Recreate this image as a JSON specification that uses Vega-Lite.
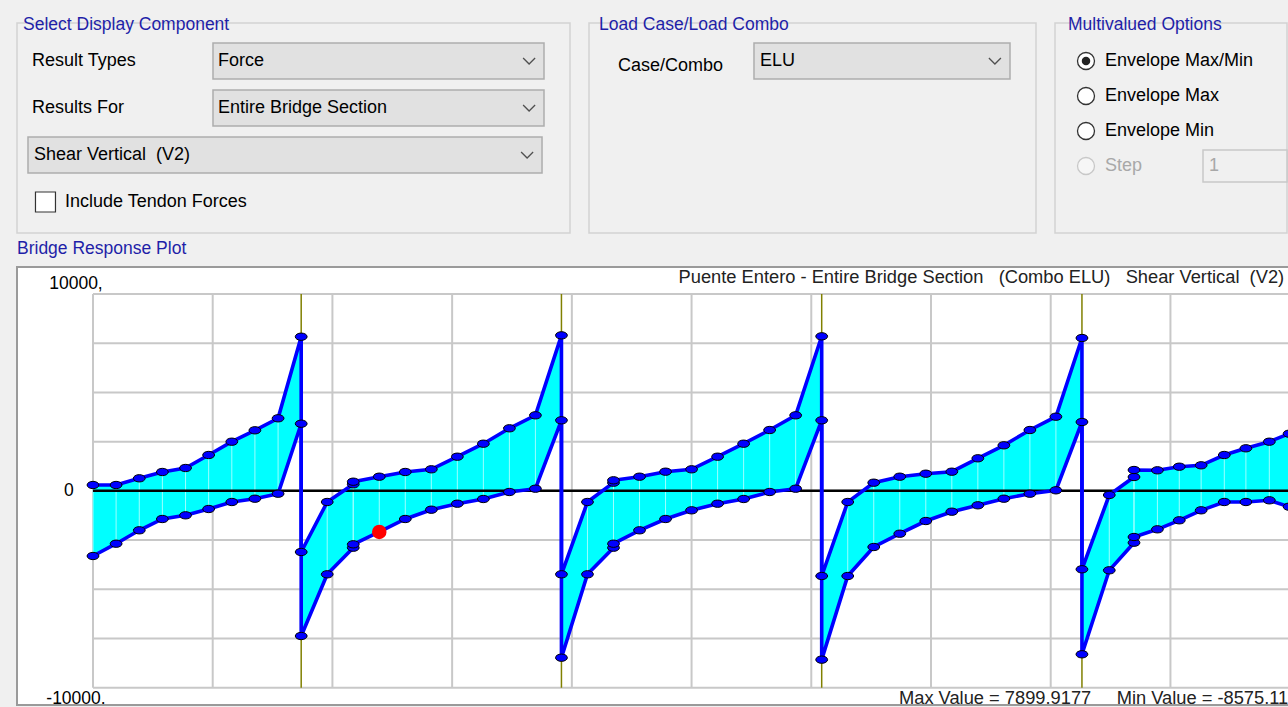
{
  "$schema": "https://vega.github.io/schema/vega-lite/v6.json",
  "background": "#f0f0f0",
  "padding": {"left": 16, "top": 14, "right": 0, "bottom": 0},
  "config": {
    "font": "Liberation Sans",
    "axis": {"disable": true},
    "legend": {"disable": true},
    "view": {"stroke": null},
    "title": {"font": "Liberation Sans", "fontSize": 17.5, "fontWeight": "normal", "color": "#1f1fa8", "anchor": "start"},
    "text": {"font": "Liberation Sans", "fontSize": 18, "color": "#000000"}
  },
  "datasets": {
    "env": [
      {"seq": 1, "station": 0, "max": 297, "min": -3310},
      {"seq": 2, "station": 4.44, "max": 297, "min": -2685},
      {"seq": 3, "station": 8.89, "max": 638, "min": -2004},
      {"seq": 4, "station": 13.33, "max": 958, "min": -1430},
      {"seq": 5, "station": 17.78, "max": 1161, "min": -1242},
      {"seq": 6, "station": 22.22, "max": 1822, "min": -922},
      {"seq": 7, "station": 26.67, "max": 2497, "min": -566},
      {"seq": 8, "station": 31.11, "max": 3076, "min": -399},
      {"seq": 9, "station": 35.56, "max": 3686, "min": -145},
      {"seq": 10, "station": 40, "max": 7831, "min": 3411},
      {"seq": 11, "station": 40, "max": -3106, "min": -7374},
      {"seq": 12, "station": 45, "max": -566, "min": -4239},
      {"seq": 13, "station": 50, "max": 333, "min": -2888},
      {"seq": 14, "station": 50, "max": 465, "min": -2715},
      {"seq": 15, "station": 55, "max": 719, "min": -2090, "selected": true},
      {"seq": 16, "station": 60, "max": 958, "min": -1430},
      {"seq": 17, "station": 65, "max": 1095, "min": -958},
      {"seq": 18, "station": 70, "max": 1735, "min": -653},
      {"seq": 19, "station": 75, "max": 2395, "min": -414},
      {"seq": 20, "station": 80, "max": 3178, "min": -58},
      {"seq": 21, "station": 85, "max": 3838, "min": 109},
      {"seq": 22, "station": 90, "max": 7900, "min": 3584},
      {"seq": 23, "station": 90, "max": -4239, "min": -8476},
      {"seq": 24, "station": 95, "max": -566, "min": -4239},
      {"seq": 25, "station": 100, "max": 414, "min": -2888},
      {"seq": 26, "station": 100, "max": 536, "min": -2685},
      {"seq": 27, "station": 105, "max": 719, "min": -2004},
      {"seq": 28, "station": 110, "max": 973, "min": -1430},
      {"seq": 29, "station": 115, "max": 1095, "min": -988},
      {"seq": 30, "station": 120, "max": 1735, "min": -653},
      {"seq": 31, "station": 125, "max": 2395, "min": -414},
      {"seq": 32, "station": 130, "max": 3091, "min": -58},
      {"seq": 33, "station": 135, "max": 3838, "min": 109},
      {"seq": 34, "station": 140, "max": 7851, "min": 3584},
      {"seq": 35, "station": 140, "max": -4326, "min": -8575},
      {"seq": 36, "station": 145, "max": -566, "min": -4326},
      {"seq": 37, "station": 150, "max": 414, "min": -2852},
      {"seq": 38, "station": 155, "max": 719, "min": -2177},
      {"seq": 39, "station": 160, "max": 871, "min": -1532},
      {"seq": 40, "station": 165, "max": 973, "min": -1059},
      {"seq": 41, "station": 170, "max": 1654, "min": -734},
      {"seq": 42, "station": 175, "max": 2314, "min": -399},
      {"seq": 43, "station": 180, "max": 3091, "min": -145},
      {"seq": 44, "station": 185, "max": 3767, "min": 28},
      {"seq": 45, "station": 190, "max": 7765, "min": 3498},
      {"seq": 46, "station": 190, "max": -3985, "min": -8303},
      {"seq": 47, "station": 195.25, "max": -211, "min": -4036},
      {"seq": 48, "station": 200, "max": 704, "min": -2634},
      {"seq": 49, "station": 200, "max": 1059, "min": -2344},
      {"seq": 50, "station": 204.5, "max": 1044, "min": -1953},
      {"seq": 51, "station": 208.7, "max": 1227, "min": -1496},
      {"seq": 52, "station": 212.9, "max": 1298, "min": -988},
      {"seq": 53, "station": 217.35, "max": 1821, "min": -566},
      {"seq": 54, "station": 221.5, "max": 2162, "min": -566},
      {"seq": 55, "station": 226, "max": 2497, "min": -480},
      {"seq": 56, "station": 229.8, "max": 2903, "min": -805}
    ]
  },
  "spacing": 4,
  "vconcat": [
    {
      "spacing": 17,
      "hconcat": [
        {
          "title": {"text": "Select Display Component", "dx": 6, "offset": -10},
          "width": 553, "height": 210,
          "view": {"stroke": "#d2d2d2", "strokeWidth": 1.5},
          "data": {"values": [
            {"ctl": "Result Types", "kind": "dropdown", "value": "Force"},
            {"ctl": "Results For", "kind": "dropdown", "value": "Entire Bridge Section"},
            {"ctl": "Component", "kind": "wide", "value": "Shear Vertical\u00a0 (V2)"},
            {"ctl": "Include Tendon Forces", "kind": "checkbox", "value": ""}
          ]},
          "encoding": {"y": {"field": "ctl", "type": "nominal", "scale": {"type": "band", "domain": ["Result Types", "Results For", "Component", "Include Tendon Forces"], "paddingInner": 0.234, "paddingOuter": 0.351, "align": 0.606}}},
          "layer": [
            {
              "transform": [{"filter": "datum.kind == 'dropdown'"}],
              "layer": [
                {"mark": {"type": "rect", "fill": "#e1e1e1", "stroke": "#adadad", "strokeWidth": 1.5},
                 "encoding": {"x": {"datum": "dd", "type": "nominal", "scale": {"type": "band", "paddingInner": 0, "paddingOuter": 0.3353, "align": 0.8829}}}},
                {"mark": {"type": "text", "align": "left", "baseline": "middle", "dx": 5},
                 "encoding": {"x": {"datum": "dd", "type": "nominal", "bandPosition": 0, "scale": {"type": "band", "paddingInner": 0, "paddingOuter": 0.3353, "align": 0.8829}}, "text": {"field": "value"}}},
                {"mark": {"type": "point", "shape": "M-1,-0.5L0,0.5L1,-0.5", "filled": false, "stroke": "#505050", "strokeWidth": 1.3, "size": 144, "opacity": 1},
                 "encoding": {"x": {"datum": "dd", "type": "nominal", "bandPosition": 0.955, "scale": {"type": "band", "paddingInner": 0, "paddingOuter": 0.3353, "align": 0.8829}}}}
              ]
            },
            {
              "transform": [{"filter": "datum.kind == 'dropdown'"}],
              "mark": {"type": "text", "align": "left", "baseline": "middle"},
              "encoding": {"x": {"datum": "label", "type": "nominal", "bandPosition": 0, "scale": {"type": "band", "paddingInner": 0.0349, "paddingOuter": 1, "align": 0.0402}}, "text": {"field": "ctl"}}
            },
            {
              "transform": [{"filter": "datum.kind == 'wide'"}],
              "layer": [
                {"mark": {"type": "rect", "fill": "#e1e1e1", "stroke": "#adadad", "strokeWidth": 1.5},
                 "encoding": {"x": {"datum": "wide", "type": "nominal", "scale": {"type": "band", "paddingInner": 0, "paddingOuter": 0.0379, "align": 0.282}}}},
                {"mark": {"type": "text", "align": "left", "baseline": "middle", "dx": 6},
                 "encoding": {"x": {"datum": "wide", "type": "nominal", "bandPosition": 0, "scale": {"type": "band", "paddingInner": 0, "paddingOuter": 0.0379, "align": 0.282}}, "text": {"field": "value"}}},
                {"mark": {"type": "point", "shape": "M-1,-0.5L0,0.5L1,-0.5", "filled": false, "stroke": "#505050", "strokeWidth": 1.3, "size": 144, "opacity": 1},
                 "encoding": {"x": {"datum": "wide", "type": "nominal", "bandPosition": 0.971, "scale": {"type": "band", "paddingInner": 0, "paddingOuter": 0.0379, "align": 0.282}}}}
              ]
            },
            {
              "transform": [{"filter": "datum.kind == 'checkbox'"}],
              "layer": [
                {"mark": {"type": "point", "shape": "square", "filled": true, "fill": "#ffffff", "stroke": "#333333", "strokeWidth": 1.2, "size": 400, "opacity": 1},
                 "encoding": {"x": {"datum": "check", "type": "nominal", "scale": {"type": "band", "paddingInner": 0.9211, "paddingOuter": 1, "align": 0.0338}}}},
                {"mark": {"type": "text", "align": "left", "baseline": "middle", "dx": 9},
                 "encoding": {"x": {"datum": "check", "type": "nominal", "bandPosition": 1, "scale": {"type": "band", "paddingInner": 0.9211, "paddingOuter": 1, "align": 0.0338}}, "text": {"field": "ctl"}}}
              ]
            }
          ],
          "resolve": {"scale": {"x": "independent"}}
        },
        {
          "title": {"text": "Load Case/Load Combo", "dx": 10, "offset": -10},
          "width": 447, "height": 210,
          "view": {"stroke": "#d2d2d2", "strokeWidth": 1.5},
          "data": {"values": [{"ctl": "Case/Combo", "value": "ELU"}]},
          "encoding": {"y": {"field": "ctl", "type": "nominal", "scale": {"type": "band", "paddingInner": 0.5862, "paddingOuter": 1, "align": 0.1149}}},
          "layer": [
            {
              "layer": [
                {"mark": {"type": "rect", "fill": "#e1e1e1", "stroke": "#adadad", "strokeWidth": 1.5},
                 "encoding": {"x": {"datum": "dd", "type": "nominal", "scale": {"type": "band", "paddingInner": 0, "paddingOuter": 0.373, "align": 0.8639}}}},
                {"mark": {"type": "text", "align": "left", "baseline": "middle", "dx": 6},
                 "encoding": {"x": {"datum": "dd", "type": "nominal", "bandPosition": 0, "scale": {"type": "band", "paddingInner": 0, "paddingOuter": 0.373, "align": 0.8639}}, "text": {"field": "value"}}},
                {"mark": {"type": "point", "shape": "M-1,-0.5L0,0.5L1,-0.5", "filled": false, "stroke": "#505050", "strokeWidth": 1.3, "size": 144, "opacity": 1},
                 "encoding": {"x": {"datum": "dd", "type": "nominal", "bandPosition": 0.941, "scale": {"type": "band", "paddingInner": 0, "paddingOuter": 0.373, "align": 0.8639}}}}
              ]
            },
            {
              "mark": {"type": "text", "align": "left", "baseline": "middle", "dy": 5},
              "encoding": {"x": {"datum": "label", "type": "nominal", "bandPosition": 0, "scale": {"type": "band", "paddingInner": 0.4236, "paddingOuter": 1, "align": 0.0836}}, "text": {"field": "ctl"}}
            }
          ],
          "resolve": {"scale": {"x": "independent"}}
        },
        {
          "title": {"text": "Multivalued Options", "dx": 13, "offset": -10},
          "width": 232, "height": 210,
          "view": {"stroke": "#d2d2d2", "strokeWidth": 1.5},
          "data": {"values": [
            {"option": "Envelope Max/Min", "selected": true, "enabled": true},
            {"option": "Envelope Max", "selected": false, "enabled": true},
            {"option": "Envelope Min", "selected": false, "enabled": true},
            {"option": "Step", "selected": false, "enabled": false, "value": "1"}
          ]},
          "encoding": {"y": {"field": "option", "type": "nominal", "scale": {"type": "band", "domain": ["Envelope Max/Min", "Envelope Max", "Envelope Min", "Step"], "paddingInner": 0, "paddingOuter": 1, "align": 0.293}}},
          "layer": [
            {
              "layer": [
                {"mark": {"type": "point", "shape": "circle", "filled": true, "strokeWidth": 1.3, "size": 289, "opacity": 1},
                 "encoding": {
                   "x": {"datum": "radio", "type": "nominal", "scale": {"type": "band", "paddingInner": 0.8318, "paddingOuter": 1, "align": 0.1028}},
                   "fill": {"condition": {"test": "datum.enabled", "value": "#ffffff"}, "value": "#f6f6f6"},
                   "stroke": {"condition": {"test": "datum.enabled", "value": "#333333"}, "value": "#c8c8c8"}
                 }},
                {"transform": [{"filter": "datum.selected"}],
                 "mark": {"type": "point", "shape": "circle", "filled": true, "fill": "#222222", "size": 72, "opacity": 1},
                 "encoding": {"x": {"datum": "radio", "type": "nominal", "scale": {"type": "band", "paddingInner": 0.8318, "paddingOuter": 1, "align": 0.1028}}}},
                {"mark": {"type": "text", "align": "left", "baseline": "middle", "dx": 10},
                 "encoding": {
                   "x": {"datum": "radio", "type": "nominal", "bandPosition": 1, "scale": {"type": "band", "paddingInner": 0.8318, "paddingOuter": 1, "align": 0.1028}},
                   "text": {"field": "option"},
                   "color": {"condition": {"test": "datum.enabled", "value": "#000000"}, "value": "#a8a8a8"}
                 }}
              ]
            },
            {
              "transform": [{"filter": "datum.option == 'Step'"}],
              "layer": [
                {"mark": {"type": "rect", "fill": "#f0f0f0", "stroke": "#c8c8c8", "strokeWidth": 1.5, "height": 32},
                 "encoding": {"x": {"datum": "box", "type": "nominal", "scale": {"type": "band", "paddingInner": 0, "paddingOuter": 0.881, "align": 1}}}},
                {"mark": {"type": "text", "align": "left", "baseline": "middle", "dx": 6, "color": "#a8a8a8"},
                 "encoding": {"x": {"datum": "box", "type": "nominal", "bandPosition": 0, "scale": {"type": "band", "paddingInner": 0, "paddingOuter": 0.881, "align": 1}}, "text": {"field": "value"}}}
              ]
            }
          ],
          "resolve": {"scale": {"x": "independent"}}
        }
      ]
    },
    {
      "title": {"text": "Bridge Response Plot", "offset": 10},
      "width": 1272, "height": 438,
      "view": {"fill": "#ffffff", "stroke": "#9a9a9a", "strokeWidth": 2},
      "data": {"name": "env"},
      "layer": [
        {
          "data": {"values": [{"level": -10000}, {"level": -7500}, {"level": -5000}, {"level": -2500}, {"level": 0}, {"level": 2500}, {"level": 5000}, {"level": 7500}, {"level": 10000}]},
          "mark": {"type": "rule", "color": "#c8c8c8", "strokeWidth": 2},
          "encoding": {
            "y": {"field": "level", "type": "quantitative", "scale": {"domain": [-10879, 11372], "nice": false, "zero": false}},
            "x": {"datum": 0, "scale": {"domain": [-14.6, 229.78], "nice": false, "zero": false}},
            "x2": {"datum": 230}
          }
        },
        {
          "data": {"values": [{"grid": 0}, {"grid": 23}, {"grid": 46}, {"grid": 69}, {"grid": 92}, {"grid": 115}, {"grid": 138}, {"grid": 161}, {"grid": 184}, {"grid": 207}, {"grid": 230}]},
          "mark": {"type": "rule", "color": "#c8c8c8", "strokeWidth": 2},
          "encoding": {
            "x": {"field": "grid", "type": "quantitative", "scale": {"domain": [-14.6, 229.78], "nice": false, "zero": false}},
            "y": {"datum": -10000, "scale": {"domain": [-10879, 11372], "nice": false, "zero": false}},
            "y2": {"datum": 10000}
          }
        },
        {
          "mark": {"type": "area", "fill": "#00ffff", "opacity": 1, "orient": "vertical", "interpolate": "linear"},
          "encoding": {
            "x": {"field": "station", "type": "quantitative", "scale": {"domain": [-14.6, 229.78], "nice": false, "zero": false}},
            "y": {"field": "max", "type": "quantitative", "scale": {"domain": [-10879, 11372], "nice": false, "zero": false}},
            "y2": {"field": "min"}
          }
        },
        {
          "mark": {"type": "rule", "color": "#9cffff", "strokeWidth": 1},
          "encoding": {
            "x": {"field": "station", "type": "quantitative", "scale": {"domain": [-14.6, 229.78], "nice": false, "zero": false}},
            "y": {"field": "max", "type": "quantitative", "scale": {"domain": [-10879, 11372], "nice": false, "zero": false}},
            "y2": {"field": "min"}
          }
        },
        {
          "data": {"values": [{}]},
          "mark": {"type": "rule", "color": "#000000", "strokeWidth": 2.5},
          "encoding": {
            "y": {"datum": 0, "scale": {"domain": [-10879, 11372], "nice": false, "zero": false}},
            "x": {"datum": 0, "scale": {"domain": [-14.6, 229.78], "nice": false, "zero": false}},
            "x2": {"datum": 230}
          }
        },
        {
          "data": {"values": [{"pier": 40}, {"pier": 90}, {"pier": 140}, {"pier": 190}]},
          "mark": {"type": "rule", "color": "#808000", "strokeWidth": 1.5},
          "encoding": {
            "x": {"field": "pier", "type": "quantitative", "scale": {"domain": [-14.6, 229.78], "nice": false, "zero": false}},
            "y": {"datum": -10000, "scale": {"domain": [-10879, 11372], "nice": false, "zero": false}},
            "y2": {"datum": 10000}
          }
        },
        {
          "mark": {"type": "line", "color": "#0000ff", "strokeWidth": 3.6},
          "encoding": {
            "x": {"field": "station", "type": "quantitative", "scale": {"domain": [-14.6, 229.78], "nice": false, "zero": false}},
            "y": {"field": "max", "type": "quantitative", "scale": {"domain": [-10879, 11372], "nice": false, "zero": false}},
            "order": {"field": "seq"}
          }
        },
        {
          "mark": {"type": "line", "color": "#0000ff", "strokeWidth": 3.6},
          "encoding": {
            "x": {"field": "station", "type": "quantitative", "scale": {"domain": [-14.6, 229.78], "nice": false, "zero": false}},
            "y": {"field": "min", "type": "quantitative", "scale": {"domain": [-10879, 11372], "nice": false, "zero": false}},
            "order": {"field": "seq"}
          }
        },
        {
          "mark": {"type": "point", "shape": "M-1,0A1,0.62,0,1,0,1,0A1,0.62,0,1,0,-1,0Z", "filled": true, "fill": "#0000ff", "stroke": "#000000", "strokeWidth": 1, "size": 140, "opacity": 1},
          "encoding": {
            "x": {"field": "station", "type": "quantitative", "scale": {"domain": [-14.6, 229.78], "nice": false, "zero": false}},
            "y": {"field": "max", "type": "quantitative", "scale": {"domain": [-10879, 11372], "nice": false, "zero": false}}
          }
        },
        {
          "mark": {"type": "point", "shape": "M-1,0A1,0.62,0,1,0,1,0A1,0.62,0,1,0,-1,0Z", "filled": true, "fill": "#0000ff", "stroke": "#000000", "strokeWidth": 1, "size": 140, "opacity": 1},
          "encoding": {
            "x": {"field": "station", "type": "quantitative", "scale": {"domain": [-14.6, 229.78], "nice": false, "zero": false}},
            "y": {"field": "min", "type": "quantitative", "scale": {"domain": [-10879, 11372], "nice": false, "zero": false}}
          }
        },
        {
          "transform": [{"filter": "datum.selected"}],
          "mark": {"type": "point", "shape": "circle", "filled": true, "fill": "#ff0000", "size": 210, "opacity": 1},
          "encoding": {
            "x": {"field": "station", "type": "quantitative", "scale": {"domain": [-14.6, 229.78], "nice": false, "zero": false}},
            "y": {"field": "min", "type": "quantitative", "scale": {"domain": [-10879, 11372], "nice": false, "zero": false}}
          }
        },
        {
          "data": {"values": [{}]},
          "mark": {"type": "text", "align": "center", "baseline": "middle", "dy": -10, "fontSize": 17.5},
          "encoding": {
            "x": {"datum": -3.27, "scale": {"domain": [-14.6, 229.78], "nice": false, "zero": false}},
            "y": {"datum": 10000, "scale": {"domain": [-10879, 11372], "nice": false, "zero": false}},
            "text": {"value": "10000,"}
          }
        },
        {
          "data": {"values": [{}]},
          "mark": {"type": "text", "align": "center", "baseline": "middle", "dy": 0, "dx": -7, "fontSize": 17.5},
          "encoding": {
            "x": {"datum": -3.27, "scale": {"domain": [-14.6, 229.78], "nice": false, "zero": false}},
            "y": {"datum": 0, "scale": {"domain": [-10879, 11372], "nice": false, "zero": false}},
            "text": {"value": "0"}
          }
        },
        {
          "data": {"values": [{}]},
          "mark": {"type": "text", "align": "center", "baseline": "middle", "dy": 11, "fontSize": 17.5},
          "encoding": {
            "x": {"datum": -3.27, "scale": {"domain": [-14.6, 229.78], "nice": false, "zero": false}},
            "y": {"datum": -10000, "scale": {"domain": [-10879, 11372], "nice": false, "zero": false}},
            "text": {"value": "-10000."}
          }
        },
        {
          "data": {"values": [{}]},
          "mark": {"type": "text", "align": "right", "baseline": "middle", "dy": -16, "dx": -6, "fontSize": 18.3, "color": "#222222"},
          "encoding": {
            "x": {"datum": 230, "scale": {"domain": [-14.6, 229.78], "nice": false, "zero": false}},
            "y": {"datum": 10000, "scale": {"domain": [-10879, 11372], "nice": false, "zero": false}},
            "text": {"value": "Puente Entero - Entire Bridge Section\u00a0\u00a0 (Combo ELU)\u00a0\u00a0 Shear Vertical\u00a0 (V2)"}
          }
        },
        {
          "data": {"values": [{}]},
          "mark": {"type": "text", "align": "left", "baseline": "middle", "dy": 11, "fontSize": 18.3, "color": "#222222"},
          "encoding": {
            "x": {"datum": 154.85, "scale": {"domain": [-14.6, 229.78], "nice": false, "zero": false}},
            "y": {"datum": -10000, "scale": {"domain": [-10879, 11372], "nice": false, "zero": false}},
            "text": {"value": "Max Value = 7899.9177\u00a0\u00a0\u00a0\u00a0 Min Value = -8575.11"}
          }
        }
      ]
    }
  ]
}
